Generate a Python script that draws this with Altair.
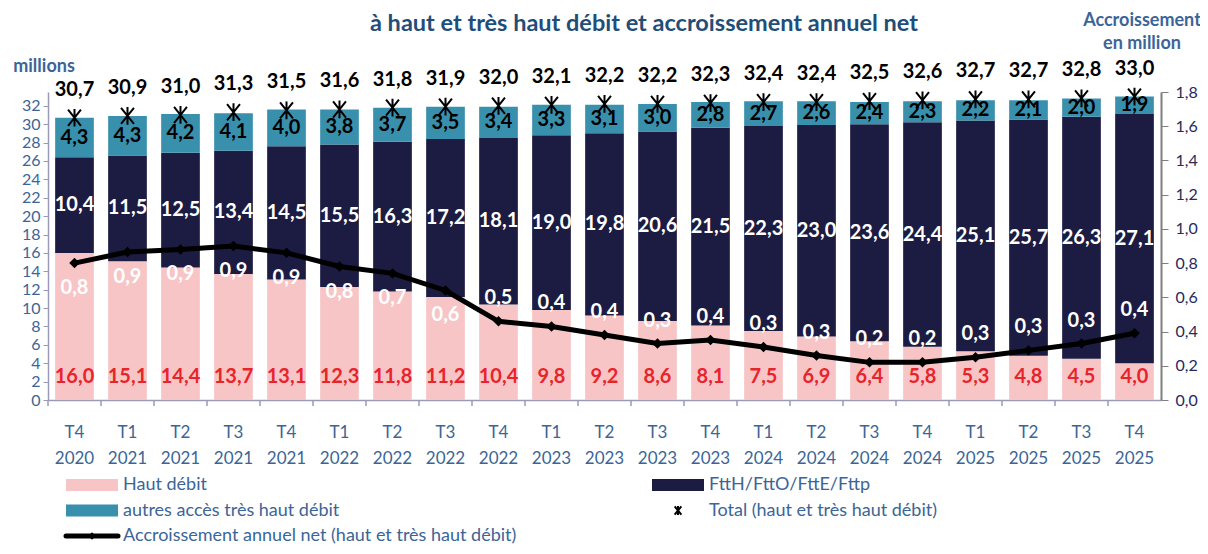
import altair as alt
import pandas as pd

quarters = ["T4 2020", "T1 2021", "T2 2021", "T3 2021", "T4 2021", "T1 2022", "T2 2022",
            "T3 2022", "T4 2022", "T1 2023", "T2 2023", "T3 2023", "T4 2023", "T1 2024",
            "T2 2024", "T3 2024", "T4 2024", "T1 2025", "T2 2025", "T3 2025", "T4 2025"]
haut_debit = [16.0, 15.1, 14.4, 13.7, 13.1, 12.3, 11.8, 11.2, 10.4, 9.8, 9.2, 8.6, 8.1, 7.5,
              6.9, 6.4, 5.8, 5.3, 4.8, 4.5, 4.0]
ftth = [10.4, 11.5, 12.5, 13.4, 14.5, 15.5, 16.3, 17.2, 18.1, 19.0, 19.8, 20.6, 21.5, 22.3,
        23.0, 23.6, 24.4, 25.1, 25.7, 26.3, 27.1]
autres = [4.3, 4.3, 4.2, 4.1, 4.0, 3.8, 3.7, 3.5, 3.4, 3.3, 3.1, 3.0, 2.8, 2.7, 2.6, 2.4,
          2.3, 2.2, 2.1, 2.0, 1.9]
total = [30.7, 30.9, 31.0, 31.3, 31.5, 31.6, 31.8, 31.9, 32.0, 32.1, 32.2, 32.2, 32.3, 32.4,
         32.4, 32.5, 32.6, 32.7, 32.7, 32.8, 33.0]
growth = [0.80, 0.865, 0.88, 0.90, 0.86, 0.78, 0.74, 0.64, 0.46, 0.43, 0.38, 0.33, 0.35, 0.31,
          0.26, 0.22, 0.22, 0.25, 0.29, 0.33, 0.39]
growth_labels = [0.8, 0.9, 0.9, 0.9, 0.9, 0.8, 0.7, 0.6, 0.5, 0.4, 0.4, 0.3, 0.4, 0.3, 0.3,
                 0.2, 0.2, 0.3, 0.3, 0.3, 0.4]

series_names = ["Haut débit", "FttH/FttO/FttE/Fttp", "autres accès très haut débit"]
series_colors = ["#f8c5c6", "#1c1b41", "#3990ad"]
legend_labels = ["Haut débit", "FttH/FttO/FttE/Fttp", "autres accès très haut débit",
                 "Total (haut et très haut débit)",
                 "Accroissement annuel net (haut et très haut débit)"]

FONT = "Lato"
AX_BLUE = "#3b6597"


def fmt(v):
    return f"{v:.1f}".replace(".", ",")


rows = []
for i, q in enumerate(quarters):
    base = 0.0
    for name, vals in zip(series_names, [haut_debit, ftth, autres]):
        v = vals[i]
        rows.append({"q": q, "i": i, "series": name, "y0": base, "y1": base + v,
                     "mid": base + v / 2, "lab": fmt(v)})
        base += v
seg = pd.DataFrame(rows)

tot = pd.DataFrame({"q": quarters, "total": total, "lab": [fmt(v) for v in total]})
gr = pd.DataFrame({"q": quarters, "i": list(range(len(quarters))), "g": growth,
                   "lab": [fmt(v) for v in growth_labels]})

left_scale = alt.Scale(domain=[0, 33.5], nice=False, zero=True)
right_scale = alt.Scale(domain=[0, 1.8], nice=False, zero=True)
x_scale = alt.Scale(paddingInner=0.27, paddingOuter=0.135)

x_axis = alt.Axis(title="", labelExpr="split(datum.label, ' ')", labelAngle=0,
                  labelColor=AX_BLUE, labelFontSize=17, labelFont=FONT,
                  ticks=False, domainColor="#9a9ab8", domainWidth=1.5,
                  labelPadding=24, labelLineHeight=26)
left_axis = alt.Axis(title="", values=list(range(0, 33, 2)), labelColor=AX_BLUE,
                     labelFontSize=16, labelFont=FONT, domainColor="#9a9ab8",
                     tickColor="#9a9ab8", tickSize=5, grid=False, labelPadding=3,
                     domainWidth=1.5, labelOverlap=False)
right_axis = alt.Axis(title="", orient="right", values=[round(k * 0.2, 1) for k in range(10)],
                      labelExpr="replace(format(datum.value, '.1f'), '.', ',')",
                      labelColor="#262a5c", labelFontSize=16, labelFont=FONT,
                      domainColor="#7f7f7f", tickColor="#7f7f7f", tickSize=7, grid=False,
                      labelPadding=7, domainWidth=2, labelOverlap=False)


def X():
    return alt.X("q:N", sort=quarters, scale=x_scale, axis=x_axis)


def YL(field):
    return alt.Y(field, scale=left_scale, axis=left_axis)


def YR(field):
    return alt.Y(field, scale=right_scale, axis=right_axis)


bars = alt.Chart(seg).mark_bar().encode(
    x=X(), y=YL("y0:Q"), y2="y1:Q",
    color=alt.Color("series:N", scale=alt.Scale(domain=series_names, range=series_colors),
                    legend=None),
)

ticks = alt.Chart(tot).mark_rule(xOffset=-26.5, color="#9a9ab8", strokeWidth=1.5).encode(
    x=X(), y=alt.value(308), y2=alt.value(314))

lab_hd = alt.Chart(seg).transform_filter(f"datum.series == '{series_names[0]}'").mark_text(
    font=FONT, fontWeight="bold", fontSize=20, color="#e8242b", baseline="middle").encode(
    x=X(), y=alt.datum(2.5, scale=left_scale, axis=left_axis), text="lab:N")

lab_ftth = alt.Chart(seg).transform_filter(f"datum.series == '{series_names[1]}'").mark_text(
    font=FONT, fontWeight="bold", fontSize=20, color="white", baseline="middle").encode(
    x=X(), y=YL("mid:Q"), text="lab:N")

lab_aut = alt.Chart(seg).transform_filter(f"datum.series == '{series_names[2]}'").mark_text(
    font=FONT, fontWeight="bold", fontSize=20, color="black", baseline="middle").encode(
    x=X(), y=YL("mid:Q"), text="lab:N")

STAR = "M-0.8,-1L0.8,1M-0.8,1L0.8,-1M0,-1.1L0,1.1"

stars = alt.Chart(tot).mark_point(shape=STAR, filled=False, stroke="black", strokeWidth=2,
                                  size=260, opacity=1).encode(
    x=X(), y=YL("total:Q"))

lab_tot = alt.Chart(tot).mark_text(font=FONT, fontWeight="bold", fontSize=20, color="black",
                                   baseline="middle", dy=-28).encode(
    x=X(), y=YL("total:Q"), text="lab:N")

left = alt.layer(bars, ticks, lab_hd, lab_ftth, lab_aut, stars, lab_tot)

line = alt.Chart(gr).mark_line(color="black", strokeWidth=5).encode(
    x=X(), y=YR("g:Q"))
pts = alt.Chart(gr).mark_point(shape="diamond", filled=True, color="black", size=110,
                               opacity=1).encode(
    x=X(), y=YR("g:Q"))
glab1 = alt.Chart(gr).transform_filter("datum.i < 8").mark_text(
    font=FONT, fontWeight="bold", fontSize=20, color="white", baseline="middle", dy=25).encode(
    x=X(), y=YR("g:Q"), text="lab:N")
glab2 = alt.Chart(gr).transform_filter("datum.i >= 8").mark_text(
    font=FONT, fontWeight="bold", fontSize=20, color="white", baseline="middle", dy=-23).encode(
    x=X(), y=YR("g:Q"), text="lab:N")

right = alt.layer(line, pts, glab1, glab2)

main = alt.layer(left, right).resolve_scale(y="independent")

# ---- decorations (legend and titles) positioned in the chart's padding area ----
deco = []
one = pd.DataFrame({"k": [0]})
for k, lab in enumerate(legend_labels):
    c, r = k % 2, k // 2
    sx = 18 + c * 586
    sy = 393 + r * 25.5
    if k < 3:
        deco.append(alt.Chart(one).mark_rect(color=series_colors[k]).encode(
            x=alt.value(sx), x2=alt.value(sx + 52), y=alt.value(sy - 6), y2=alt.value(sy + 6)))
    elif k == 3:
        deco.append(alt.Chart(one).mark_point(shape=STAR, filled=False, stroke="black",
                                              strokeWidth=2, size=70, opacity=1).encode(
            x=alt.value(sx + 26), y=alt.value(sy)))
    else:
        deco.append(alt.Chart(one).mark_rule(color="black", strokeWidth=5,
                                             strokeCap="round").encode(
            x=alt.value(sx), x2=alt.value(sx + 52), y=alt.value(sy)))
        deco.append(alt.Chart(one).mark_point(shape="diamond", filled=True, color="black",
                                              size=60, opacity=1).encode(
            x=alt.value(sx + 26), y=alt.value(sy)))
    deco.append(alt.Chart(one).mark_text(text=lab, font=FONT, fontSize=18, color=AX_BLUE,
                                         align="left", baseline="middle").encode(
        x=alt.value(sx + 57), y=alt.value(sy)))

for txt, tx, ty, size, col in [
    ("à haut et très haut débit et accroissement annuel net", 596, -68, 23.5, "#1f4e79"),
    ("millions", -4, -25, 18, AX_BLUE),
    ("Accroissement", 1094, -71, 18, AX_BLUE),
    ("en million", 1094, -48, 18, AX_BLUE),
]:
    deco.append(alt.Chart(one).mark_text(text=txt, font=FONT, fontWeight="bold", fontSize=size,
                                         color=col, baseline="middle").encode(
        x=alt.value(tx), y=alt.value(ty)))

chart = alt.layer(main, *deco).properties(
    width=1113, height=308,
    autosize=alt.AutoSizeParams(type="none"),
    padding={"left": 40, "top": 84, "right": 39, "bottom": 146},
    background="white",
).configure_view(strokeWidth=0)

chart.save("out.html", embed_options={"renderer": "svg", "actions": False})
